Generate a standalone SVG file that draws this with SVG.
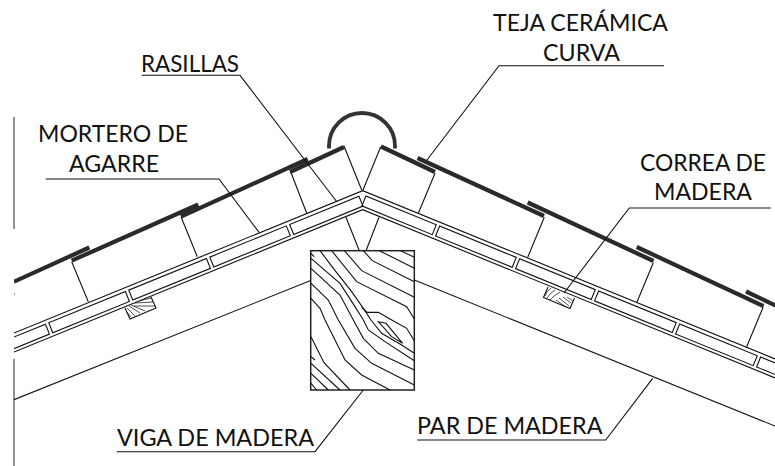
<svg xmlns="http://www.w3.org/2000/svg" width="775" height="466" viewBox="0 0 775 466">
<style>
.l{fill:none;stroke:#111;stroke-width:1.1;stroke-linejoin:miter}
.h{fill:none;stroke:#222;stroke-width:.8}
.t{fill:none;stroke:#2a2a2a;stroke-width:4.2}
.g{fill:none;stroke:#777;stroke-width:1.6}
text{font-family:"Lato","Open Sans",sans-serif;font-size:24px;fill:#111}
</style>
<defs><clipPath id="c"><rect x="14" y="0" width="761" height="466"/></clipPath></defs>
<rect width="775" height="466" fill="#fff"/>
<g id="guides">
<path class="g" d="M14 117V229M14 359V466"/>
<rect x="14" y="293.5" width="1" height="1" fill="#333"/>
</g>
<g id="cubierta" clip-path="url(#c)">
<g id="rasillas">
<path class="l" d="M14 333 L362.7 190.7 L775 358.9"/>
<path class="l" d="M14 352 L362.7 209.7 L775 377.9"/>
<g transform="translate(362.7 190.7) rotate(-22.2)">
<rect class="l" x="-80.4" y="3.7" width="74.8" height="10.7"/>
<rect class="l" x="-166.7" y="3.7" width="82.7" height="10.7"/>
<rect class="l" x="-254.2" y="3.7" width="83.9" height="10.7"/>
<rect class="l" x="-340.6" y="3.7" width="82.8" height="10.7"/>
<rect class="l" x="-430" y="3.7" width="85.8" height="10.7"/>
</g>
<g transform="translate(362.7 190.7) rotate(22.2)">
<rect class="l" x="5" y="3.7" width="76" height="10.7"/>
<rect class="l" x="84.6" y="3.7" width="82.8" height="10.7"/>
<rect class="l" x="171" y="3.7" width="81.7" height="10.7"/>
<rect class="l" x="256.3" y="3.7" width="83.9" height="10.7"/>
<rect class="l" x="343.8" y="3.7" width="83.9" height="10.7"/>
<rect class="l" x="431.3" y="3.7" width="90" height="10.7"/>
</g>
</g>
<g id="mortero">
<path class="l" d="M290.7 171.7L306.7 213.3M344 146L361.7 190M181 216.7L197.3 256.7M71.7 261.7L88.3 301.7"/>
<path class="l" d="M380.7 146.7L362.7 190.7M435 173.3L418.3 213.3M544.3 217.3L527.7 257.3M653.3 262.7L636.7 302.7M763.3 306.7L746.7 346.7"/>
</g>
<g id="tejas">
<path class="t" d="M14 281.7L89.3 247.5M71.7 260.7L198.3 204.5M181 216.7L307.7 159M290 172L344 147"/>
<path class="t" d="M381 146.5L435 172M417.5 158L544 216M527.7 202.5L653.5 261M636.7 247L763.5 306M746 291.5L785 310"/>
<path fill="none" stroke="#333" stroke-width="3.8" d="M329 148.5V146A33 33 0 0 1 395 146V148.5"/>
</g>
<g id="pares">
<path class="l" d="M14 399.7L310.7 280.5M414.3 280L775 426"/>
<path class="l" d="M346 217.3L359.3 250.7M379 217.3L366 250.7"/>
</g>
</g>
<g id="correa-izquierda">
<path class="l" d="M125 308L130 319L156 308L151 297"/>
<path class="h" d="M126 311L131 317M127 308L135 316M129 306L140 313M131 305L145 311M135 303L153 302M134 306L155 306M139 301L151 298"/>
</g>
<g id="correa-derecha">
<path class="l" d="M548 287L543.5 297.5L570 308.5L574.5 298"/>
<path class="h" d="M551 288Q546 292 545 296M555 290Q549 294 547 298M560 292Q553 296 550 300M556 300L566 307M559 298L569 306M563 297L571 303M567 297L573 301"/>
</g>
<g id="viga">
<rect x="310.7" y="250.7" width="103.6" height="139.3" fill="#fff" stroke="#222" stroke-width="1.5"/>
<g transform="translate(310 250) scale(.33333)" fill="none" stroke="#111" stroke-width="3.3">
<path d="M272 2L313 22M208 2L313 55M160 2L187 32L313 95M103 2L155 62L313 142M65 2L140 95L290 170L313 207"/>
<path d="M155 172L172 187L205 187L240 207L290 235L313 272"/>
<path d="M30 2L70 55L125 125L160 175L183 210L215 250L275 285L313 310"/>
<path d="M3 25L90 100L135 170L160 210L175 240L225 275L313 332"/>
<path d="M3 55L90 135L130 210L160 265L205 310L313 360"/>
<path d="M3 100L55 150L85 210L135 295L185 340L313 405"/>
<path d="M3 145L30 175L45 210L105 330L155 375L240 420"/>
<path d="M3 260L42 338L120 420M3 320L15 330M3 340L90 420M3 370L55 420M3 400L20 420M3 10L12 20"/>
<path d="M205 215L228 220L278 280L245 260Z"/>
</g>
</g>
<g id="connectors">
<path class="l" d="M141.7 75.3H240L337 202"/>
<path class="l" d="M45.7 179H219L259.3 232.7"/>
<path class="l" d="M664 65.7H499L427 160"/>
<path class="l" d="M770.7 208H629.3L564 293"/>
<path class="l" d="M116.7 451.7H315L363.3 390"/>
<path class="l" d="M417.3 440H605.7L652.7 378.3"/>
</g>
<g id="labels">
<text x="38" y="141.7" textLength="150" lengthAdjust="spacingAndGlyphs">MORTERO DE</text>
<text x="69" y="171.7" textLength="90" lengthAdjust="spacingAndGlyphs">AGARRE</text>
<text x="141" y="71.7" textLength="98" lengthAdjust="spacingAndGlyphs">RASILLAS</text>
<text x="493" y="31" textLength="175" lengthAdjust="spacingAndGlyphs">TEJA CERÁMICA</text>
<text x="543" y="60.7" textLength="77" lengthAdjust="spacingAndGlyphs">CURVA</text>
<text x="640" y="171" textLength="126" lengthAdjust="spacingAndGlyphs">CORREA DE</text>
<text x="654" y="200" textLength="98" lengthAdjust="spacingAndGlyphs">MADERA</text>
<text x="117" y="445.7" textLength="197" lengthAdjust="spacingAndGlyphs">VIGA DE MADERA</text>
<text x="417" y="434.3" textLength="185.5" lengthAdjust="spacingAndGlyphs">PAR DE MADERA</text>
</g>
</svg>
